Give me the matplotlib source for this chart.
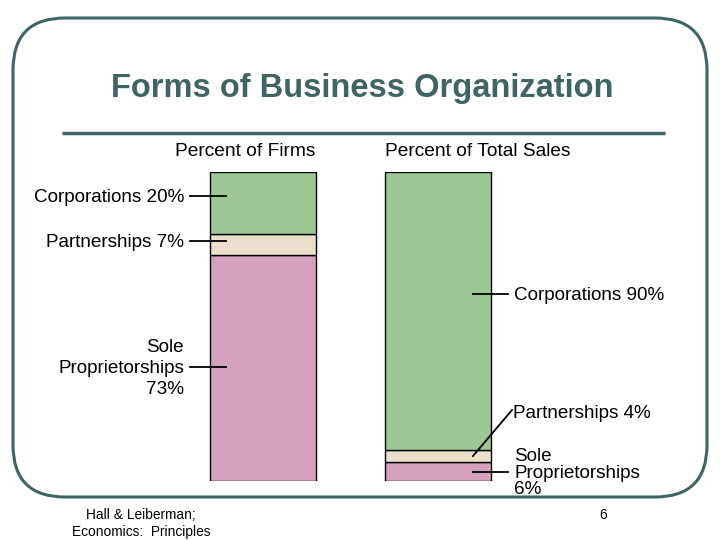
import matplotlib
matplotlib.use('Agg')  # no display
import matplotlib.pyplot as plt
from matplotlib.patches import FancyBboxPatch

plt.rcParams['font.family'] = ['Liberation Sans', 'DejaVu Sans']

# --- data ---
groups = ['Percent of Firms', 'Percent of Total Sales']
forms = ['Sole Proprietorships', 'Partnerships', 'Corporations']
firms_pct = [73, 7, 20]
sales_pct = [6, 4, 90]
form_colors = ['#D4A2BC', '#EAE0CC', '#9DC896']

TEAL = '#3E6563'

fig = plt.figure(figsize=(7.2, 5.4), dpi=100)

# page layer, pixel coordinates
page = fig.add_axes([0, 0, 1, 1])
page.set_xlim(0, 720)
page.set_ylim(540, 0)
page.axis('off')
page.add_patch(FancyBboxPatch((13, 18), 694, 479,
                              boxstyle='round,pad=0,rounding_size=52',
                              fill=False, edgecolor=TEAL, linewidth=2.2))
page.text(362, 88, 'Forms of Business Organization', ha='center', va='center',
          fontsize=23.5, fontweight='bold', color=TEAL)
page.plot([62, 665], [133, 133], color=TEAL, lw=2.5, solid_capstyle='butt')
for g, x in zip(groups, [245.5, 477.5]):
    page.text(x, 151, g, ha='center', va='center', fontsize=13.8)
page.text(141, 515, 'Hall & Leiberman;', ha='center', va='center', fontsize=9.9)
page.text(141, 532, 'Economics:  Principles', ha='center', va='center', fontsize=9.9)
page.text(603, 515, '6', ha='center', va='center', fontsize=9.9)

# bar layer: x in bar index, y in percent
ax = fig.add_axes([0, 59 / 540, 1, 309 / 540])
ax.patch.set_visible(False)
ax.axis('off')
step = 174.5
ax.set_xlim(-263 / step, (720 - 263) / step)
ax.set_ylim(0, 100)
width = 106 / step

bottom = [0, 0]
for name, f, s, c in zip(forms, firms_pct, sales_pct, form_colors):
    ax.bar([0, 1], [f, s], bottom=bottom, width=width, color=c,
           edgecolor='black', linewidth=1, zorder=2)
    bottom = [bottom[0] + f, bottom[1] + s]


def px(x):
    return (x - 263) / step


def py(y):
    return (481 - y) / 309 * 100


LBL = 13.6

# left bar labels
left_y = [367, 241, 196]
for name, val, y in zip(forms, firms_pct, left_y):
    if name.startswith('Sole'):
        label = 'Sole\nProprietorships\n%d%%' % val
    else:
        label = '%s %d%%' % (name, val)
    ax.plot([px(190), px(226)], [py(y), py(y)], color='black', lw=1.3,
            clip_on=False, zorder=3)
    ax.text(px(184), py(y + 1.5), label, ha='right', va='center', fontsize=LBL,
            multialignment='right', linespacing=1.28, clip_on=False)

# right bar labels
ax.plot([px(473), px(508)], [py(294), py(294)], color='black', lw=1.3, clip_on=False, zorder=3)
ax.text(px(514), py(295.5), '%s %d%%' % (forms[2], sales_pct[2]), ha='left', va='center',
        fontsize=LBL, clip_on=False)
ax.plot([px(473), px(512)], [py(456), py(410)], color='black', lw=1.3, clip_on=False, zorder=3)
ax.text(px(513), py(413.5), '%s %d%%' % (forms[1], sales_pct[1]), ha='left', va='center',
        fontsize=LBL, clip_on=False)
ax.plot([px(473), px(508)], [py(472), py(472)], color='black', lw=1.3, clip_on=False, zorder=3)
ax.text(px(514), py(473), 'Sole\nProprietorships\n%d%%' % sales_pct[0], ha='left', va='center',
        fontsize=LBL, linespacing=0.93, clip_on=False)

fig.savefig('out.png', dpi=100)
